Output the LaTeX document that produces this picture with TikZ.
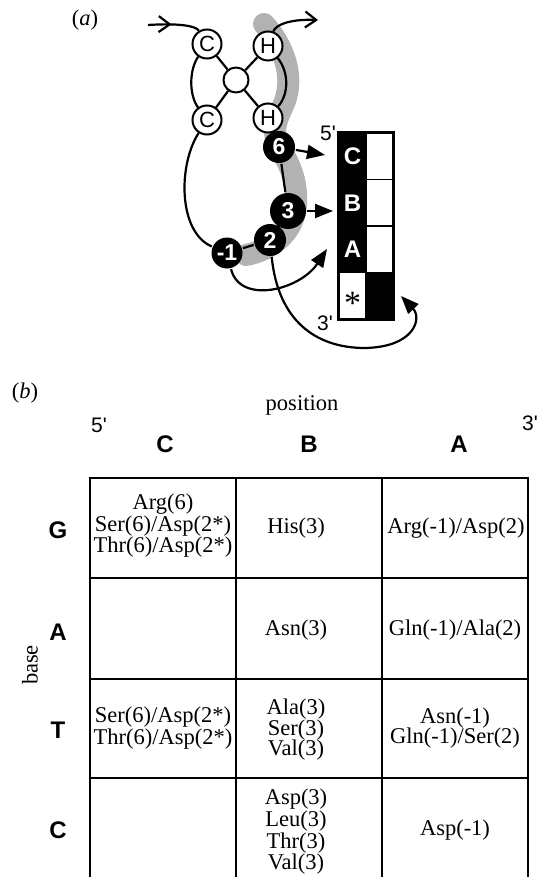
\documentclass[tikz,border=0pt]{standalone}
\usepackage{fontspec}
\setmainfont{Liberation Serif}
\setsansfont{Liberation Sans}
\usetikzlibrary{arrows.meta,decorations.markings}
\newcommand{\pr}{\textquotesingle}

\begin{document}
\begin{tikzpicture}[x=1pt,y=-1pt,line width=2.2pt,
  ring/.style={circle,draw,fill=white,minimum size=29pt,inner sep=0pt,line width=2pt,
    font=\sffamily\fontsize{22}{22}\selectfont},
  hubnode/.style={circle,draw,fill=white,minimum size=25pt,inner sep=0pt,line width=2pt},
  contact/.style={circle,fill=black,text=white,inner sep=0pt,
    font=\sffamily\bfseries\fontsize{23}{23}\selectfont},
  band/.style={line width=22pt,draw=black!30,line cap=round,line join=round},
  tri/.style={-{Triangle[length=18pt,width=14pt]}},
  barbtip/.style={-{Straight Barb[length=11pt,width=16pt]}},
  cell/.style={draw,line width=1.6pt,minimum width=27pt,minimum height=46.5pt,inner sep=0pt,
    font=\sffamily\bfseries\fontsize{24}{24}\selectfont},
  dark/.style={cell,fill=black,text=white},
  light/.style={cell,fill=white},
  endlbl/.style={inner sep=0pt,font=\sffamily\fontsize{21}{21}\selectfont},
  hdr/.style={inner sep=0pt,font=\sffamily\bfseries\fontsize{24}{24}\selectfont},
  axis/.style={inner sep=0pt,font=\fontsize{22.5}{22.5}\selectfont},
  entry/.style={inner sep=0pt,align=center,font=\fontsize{22.5}{18.5}\selectfont},
  entryloose/.style={inner sep=0pt,align=center,font=\fontsize{22.5}{20.5}\selectfont},
  entrylooser/.style={inner sep=0pt,align=center,font=\fontsize{22.5}{21.7}\selectfont},
  gridline/.style={line width=2.2pt}]

\useasboundingbox (0,0) rectangle (541,877);
\clip (0,0) rectangle (541,877);

% ---------------- (a) ----------------
\node[axis] (la) at (85,20) {(\textit{a})};

% shaded recognition strip behind the chain
\draw[band] (264,24) .. controls (283,45) and (297,78) .. (282,108)
  .. controls (274,125) and (272,135) .. (281,150)
  .. controls (293,170) and (297,185) .. (296,205)
  .. controls (294,232) and (272,250) .. (246,255);

% junction
\node[ring] (c1) at (207,44) {C};
\node[ring] (h1) at (268,46) {H};
\node[hubnode] (hub) at (236,80) {};
\node[ring] (c2) at (207,120) {C};
\node[ring] (h2) at (268,118) {H};

% contacting residues
\node[contact,minimum size=32pt] (n6) at (279,147) {6};
\node[contact,minimum size=36pt] (n3) at (288,211) {3};
\node[contact,minimum size=32pt] (n2) at (270,240) {2};
\node[contact,minimum size=31pt] (nm1) at (227,253) {-1};

\draw (c1) -- (hub) -- (h2);
\draw (h1) -- (hub) -- (c2);
\draw (c1) .. controls (189,70) and (189,95) .. (c2);
\draw (h1) .. controls (289,72) and (289,94) .. (h2);
\draw (h2) -- (n6) -- (n3) -- (n2) -- (nm1);
\draw (c2) .. controls (178,165) and (178,232) .. (nm1);

% chain entering and leaving
\coordinate (inL) at (148,25);
\coordinate (outR) at (318,20);
\draw[postaction={decorate},decoration={markings,
  mark=at position 0.45 with {\arrow{Straight Barb[length=11pt,width=16pt]}}}]
  (inL) .. controls (180,23) and (196,26) .. (c1);
\draw[barbtip] (h1) .. controls (276,24) and (292,19) .. (outR);

% base triplet
\node[dark] (kC) at (352.5,156.25) {C};
\node[dark] (kB) at (352.5,202.75) {B};
\node[dark] (kA) at (352.5,249.25) {A};
\node[light] (ks) at (352.5,295.75) {};
\node[font=\fontsize{34}{34}\selectfont,inner sep=0pt] (star) at (352.5,303) {*};
\node[light] (wC) at (379.5,156.25) {};
\node[light] (wB) at (379.5,202.75) {};
\node[light] (wA) at (379.5,249.25) {};
\node[dark] (wk) at (379.5,295.75) {};
\draw[line width=2.2pt] (kC.north west) rectangle (wk.south east);
\node[endlbl] (e5) at (328,133) {5\pr};
\node[endlbl] (e3) at (325,323) {3\pr};

% contacts to bases
\coordinate (t6) at (325,155);
\coordinate (t3) at (333,211);
\coordinate (tA) at (327,249);
\coordinate (t2) at (401,296);
\draw[tri] (n6) -- (t6);
\draw[tri] (n3) -- (t3);
\draw[tri] (nm1) .. controls (240,305) and (300,290) .. (tA);
\draw[tri] (n2) .. controls (278,320) and (315,348) .. (365,348)
  .. controls (415,347) and (422,318) .. (t2);

% ---------------- (b) ----------------
\node[axis] (lb) at (25,393) {(\textit{b})};
\node[axis] (pos) at (302,405) {position};
\node[axis,rotate=90] (base) at (30,665) {base};
\node[endlbl] (p5) at (99,425) {5\pr};
\node[endlbl] (p3) at (530,423) {3\pr};
\node[hdr] (hC) at (165,444) {C};
\node[hdr] (hB) at (309,444) {B};
\node[hdr] (hA) at (459,444) {A};

\node[hdr] (rG) at (58,530) {G};
\node[hdr] (rA) at (58,632) {A};
\node[hdr] (rT) at (58,730) {T};
\node[hdr] (rC) at (58,830) {C};

% grid
\foreach \yy in {478,578,679,778} \draw[gridline] (90,\yy) -- (528,\yy);
\foreach \xx in {90,236,382,528} \draw[gridline] (\xx,477) -- (\xx,890);

% entries
\node[entry] (gC) at (163,526) {Arg(6)\\Ser(6)/Asp(2*)\\Thr(6)/Asp(2*)};
\node[entry] (gB) at (296,528) {His(3)};
\node[entry] (gA) at (456,528) {Arg(-1)/Asp(2)};
\node[entry] (aB) at (296,630) {Asn(3)};
\node[entry] (aA) at (455,630) {Gln(-1)/Ala(2)};
\node[entry] (tC) at (163,728) {Ser(6)/Asp(2*)\\Thr(6)/Asp(2*)};
\node[entryloose] (tB) at (296,730) {Ala(3)\\Ser(3)\\Val(3)};
\node[entryloose] (tA2) at (455,728) {Asn(-1)\\Gln(-1)/Ser(2)};
\node[entrylooser] (cB) at (296,832) {Asp(3)\\Leu(3)\\Thr(3)\\Val(3)};
\node[entry] (cA) at (455,830) {Asp(-1)};
\end{tikzpicture}
\end{document}
